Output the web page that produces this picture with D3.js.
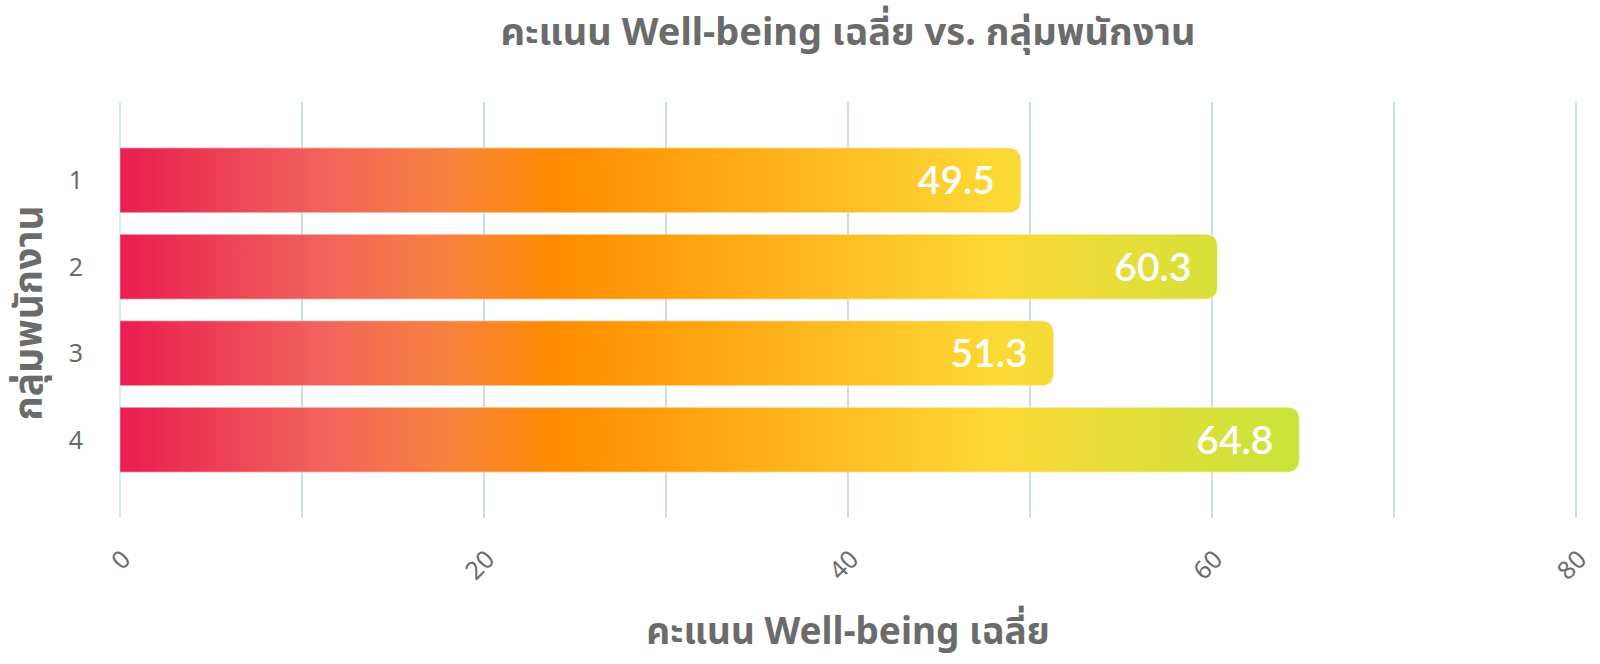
<!DOCTYPE html>
<html>
<head>
<meta charset="utf-8">
<script src="https://cdn.jsdelivr.net/npm/d3@7"></script>
<style>
  html, body { margin: 0; padding: 0; background: #ffffff; }
  svg { display: block; }
</style>
</head>
<body>
<svg id="chart" width="1600" height="664"></svg>
<script>
// ---- data ----
const groups = ["1", "2", "3", "4"];
const scores = [49.5, 60.3, 51.3, 64.8];
const xTicks = [0, 20, 40, 60, 80];
const gridValues = [0, 10, 20, 30, 40, 50, 60, 70, 80];
const titleText = "คะแนน Well-being เฉลี่ย vs. กลุ่มพนักงาน";
const xTitleText = "คะแนน Well-being เฉลี่ย";
const yTitleText = "กลุ่มพนักงาน";
// gradient stops in score units
const gradStops = [
  { v: 0, c: "#e91e50" },
  { v: 11, c: "#f2625c" },
  { v: 18, c: "#f7823f" },
  { v: 24, c: "#ff8c00" },
  { v: 48, c: "#fdd835" },
  { v: 64.8, c: "#c8e43c" }
];

const svg = d3.select("#chart");
const plotLeft = 120, plotRight = 1576, plotTop = 102, plotBottom = 518;

const x = d3.scaleLinear().domain([0, 80]).range([plotLeft, plotRight]);
const y = d3.scaleBand().domain(groups).range([plotTop, plotBottom]).paddingInner(0.25).paddingOuter(0.53);

const textColor = "#6b6b6b";
const thaiFont = "'Noto Sans', 'Noto Sans Thai', sans-serif";

// gradient
const defs = svg.append("defs");
const gmax = d3.max(scores);
const grad = defs.append("linearGradient")
  .attr("id", "barGrad")
  .attr("gradientUnits", "userSpaceOnUse")
  .attr("x1", x(0)).attr("x2", x(gmax))
  .attr("y1", 0).attr("y2", 0);
grad.selectAll("stop").data(gradStops).join("stop")
  .attr("offset", d => d.v / gmax)
  .attr("stop-color", d => d.c);

// grid lines
svg.append("g").selectAll("line").data(gridValues).join("line")
  .attr("x1", d => x(d)).attr("x2", d => x(d))
  .attr("y1", plotTop).attr("y2", plotBottom)
  .attr("stroke", d => d === 0 ? "#c6eaf2" : "#b9d9e3")
  .attr("stroke-width", 1.6);

// bars (rounded right corners)
const r = 13;
function barPath(v, g) {
  const x0 = x(0), x1 = x(v), y0 = y(g), h = y.bandwidth();
  return `M${x0},${y0} H${x1 - r} Q${x1},${y0} ${x1},${y0 + r} V${y0 + h - r} Q${x1},${y0 + h} ${x1 - r},${y0 + h} H${x0} Z`;
}
svg.append("g").selectAll("path").data(groups).join("path")
  .attr("d", (g, i) => barPath(scores[i], g))
  .attr("fill", "url(#barGrad)")
  .attr("stroke", "rgba(255,255,255,0.35)")
  .attr("stroke-width", 1.2);

// value labels
svg.append("g").selectAll("text").data(groups).join("text")
  .attr("x", (g, i) => x(scores[i]) - 26)
  .attr("y", g => y(g) + y.bandwidth() / 2)
  .attr("dy", "0.36em")
  .attr("text-anchor", "end")
  .attr("fill", "#ffffff")
  .attr("font-family", "Lato, sans-serif")
  .attr("font-weight", 600)
  .attr("font-size", 39)
  .text((g, i) => scores[i].toFixed(1));

// y axis tick labels
svg.append("g").selectAll("text").data(groups).join("text")
  .attr("x", 83)
  .attr("y", g => y(g) + y.bandwidth() / 2)
  .attr("dy", "0.36em")
  .attr("text-anchor", "end")
  .attr("fill", textColor)
  .attr("font-family", "'Noto Sans', sans-serif")
  .attr("font-size", 25)
  .text(g => g);

// x axis tick labels (rotated)
svg.append("g").selectAll("text").data(xTicks).join("text")
  .attr("transform", d => `translate(${x(d) + 12},${561}) rotate(-45)`)
  .attr("text-anchor", "end")
  .attr("fill", textColor)
  .attr("font-family", "'Noto Sans', sans-serif")
  .attr("font-size", 25)
  .text(d => d);

// title
svg.append("text")
  .attr("x", 848).attr("y", 45)
  .attr("text-anchor", "middle")
  .attr("fill", textColor)
  .attr("font-family", thaiFont)
  .attr("font-weight", "bold")
  .attr("font-size", 38)
  .text(titleText);

// x axis title
svg.append("text")
  .attr("x", (plotLeft + plotRight) / 2).attr("y", 644)
  .attr("text-anchor", "middle")
  .attr("fill", textColor)
  .attr("font-family", thaiFont)
  .attr("font-weight", "bold")
  .attr("font-size", 37)
  .text(xTitleText);

// y axis title
svg.append("text")
  .attr("transform", `translate(42,313) rotate(-90)`)
  .attr("text-anchor", "middle")
  .attr("fill", textColor)
  .attr("font-family", thaiFont)
  .attr("font-weight", "bold")
  .attr("font-size", 39)
  .text(yTitleText);
</script>
</body>
</html>
